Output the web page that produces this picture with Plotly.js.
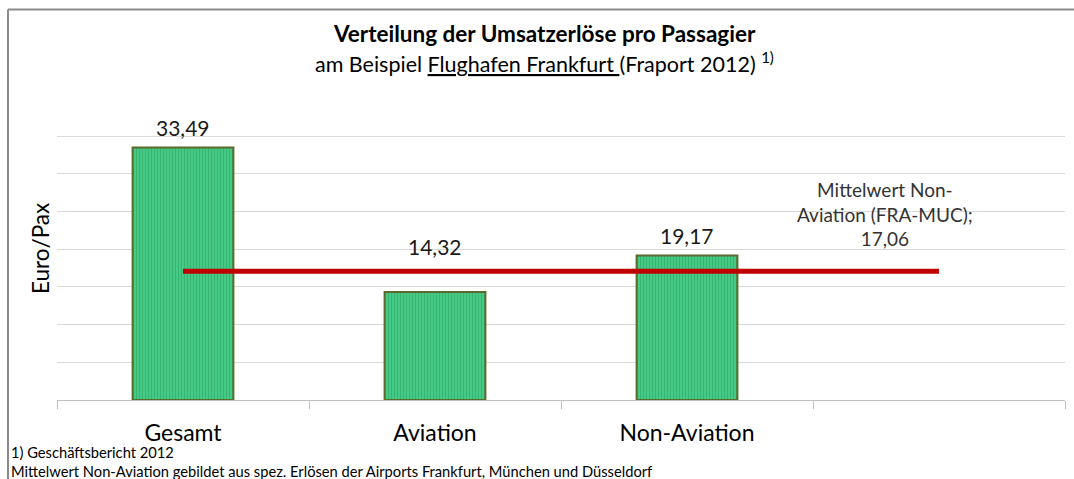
<!DOCTYPE html>
<html>
<head>
<meta charset="utf-8">
<script src="https://cdn.plot.ly/plotly-3.0.1.min.js"></script>
<style>html,body{margin:0;padding:0;background:#fff;}#chart{width:1074px;height:479px;}</style>
</head>
<body>
<div id="chart"></div>
<script>
var categories = ["Gesamt", "Aviation", "Non-Aviation", " "];
var barValues = [33.49, 14.32, 19.17, null];
var meanValue = 17.06;
var meanValues = [meanValue, meanValue, meanValue, meanValue];
var barLabels = ["33,49", "14,32", "19,17"];
var meanLabel = "Mittelwert Non-<br>Aviation (FRA-MUC);<br>17,06";
var titleText = "<b>Verteilung der Umsatzerlöse pro Passagier</b>";
var subtitleText = "am Beispiel <u>Flughafen Frankfurt </u>(Fraport 2012) <sup>1)</sup>";
var yTitle = "Euro/Pax";
var footnotes = ["1) Geschäftsbericht 2012", "Mittelwert Non-Aviation gebildet aus spez. Erlösen der Airports Frankfurt, München und Düsseldorf"];

var FONT = "Lato, 'Open Sans', sans-serif";

var traces = [
  {
    type: "bar",
    x: categories,
    y: barValues,
    width: 0.4,
    marker: {color: "#3fc27c", line: {color: "#5b6b2c", width: 2},
             pattern: {shape: "|", size: 3, solidity: 0.25, fgcolor: "#36ad6c", bgcolor: "#45ca86"}},
    hoverinfo: "skip",
    showlegend: false
  },
  {
    type: "scatter",
    mode: "lines",
    x: categories,
    y: meanValues,
    line: {color: "#c00000", width: 5},
    hoverinfo: "skip",
    showlegend: false
  }
];

var annotations = [];
for (var i = 0; i < barLabels.length; i++) {
  var yv = Math.max(barValues[i], meanValue);
  annotations.push({
    x: categories[i], y: yv, xref: "x", yref: "y",
    text: barLabels[i], showarrow: false,
    yanchor: "bottom", yshift: barValues[i] < meanValue ? 10 : 5,
    font: {family: FONT, size: 21, color: "#1a1a1a"}
  });
}
annotations.push({
  x: categories[3], y: meanValue, xref: "x", yref: "y",
  text: meanLabel, showarrow: false, xshift: -54, yshift: 19,
  yanchor: "bottom", align: "center",
  font: {family: FONT, size: 19, color: "#333"}
});
annotations.push({
  x: 0.484, y: 1, xref: "paper", yref: "paper", yshift: 65,
  text: titleText, showarrow: false, yanchor: "middle",
  font: {family: FONT, size: 22.5, color: "#000"}
});
annotations.push({
  x: 0.484, y: 1, xref: "paper", yref: "paper", yshift: 36,
  text: subtitleText, showarrow: false, yanchor: "middle",
  font: {family: FONT, size: 21.5, color: "#000"}
});
annotations.push({
  x: 0, y: 0.5, xref: "paper", yref: "paper", xshift: -17,
  text: yTitle, showarrow: false, textangle: -90, xanchor: "center",
  font: {family: FONT, size: 22.5, color: "#000"}
});
annotations.push({
  x: 0, y: 0, xref: "paper", yref: "paper", xshift: -48, yshift: -52,
  text: footnotes[0], showarrow: false, xanchor: "left", yanchor: "middle",
  font: {family: FONT, size: 14.7, color: "#000"}
});
annotations.push({
  x: 0, y: 0, xref: "paper", yref: "paper", xshift: -48, yshift: -71,
  text: footnotes[1], showarrow: false, xanchor: "left", yanchor: "middle",
  font: {family: FONT, size: 14.7, color: "#000"}
});

var layout = {
  width: 1074, height: 479,
  margin: {l: 57, r: 9, t: 98, b: 79},
  paper_bgcolor: "#fff", plot_bgcolor: "#fff",
  font: {family: FONT},
  xaxis: {
    type: "category", categoryarray: categories, range: [-0.5, 3.5],
    tickson: "boundaries", ticks: "outside", ticklen: 8, tickcolor: "#c0c0c0", tickwidth: 1,
    ticklabelstandoff: 12,
    showline: true, linecolor: "#c0c0c0", linewidth: 1,
    showgrid: false, zeroline: false,
    tickfont: {family: FONT, size: 23, color: "#000"}
  },
  yaxis: {
    range: [0, 40.05], dtick: 5, showticklabels: false,
    showgrid: true, gridcolor: "#d9d9d9", gridwidth: 1,
    zeroline: false, showline: false, ticks: ""
  },
  shapes: [
    {type: "line", xref: "paper", yref: "paper", x0: -0.0486, x1: 1.01, y0: 1.293, y1: 1.293,
     line: {color: "#8a8a8a", width: 2}},
    {type: "line", xref: "paper", yref: "paper", x0: -0.0486, x1: -0.0486, y0: -0.3, y1: 1.293,
     line: {color: "#8a8a8a", width: 2}}
  ],
  annotations: annotations,
  bargap: 0.6
};

Plotly.newPlot("chart", traces, layout, {displayModeBar: false, staticPlot: true});
</script>
</body>
</html>
